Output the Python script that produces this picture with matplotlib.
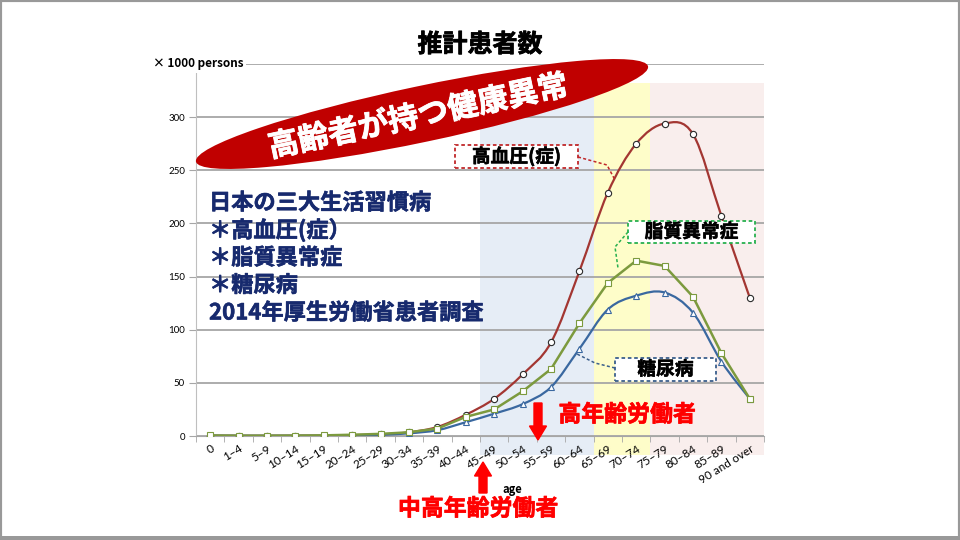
import numpy as np
import matplotlib
matplotlib.use('Agg')
import matplotlib.pyplot as plt
import matplotlib.patheffects as pe
from matplotlib.path import Path
from matplotlib.patches import PathPatch, Rectangle, Ellipse, FancyArrow
from matplotlib.lines import Line2D

plt.rcParams['font.family'] = ['Noto Sans CJK JP', 'DejaVu Sans']

# --- data (x1000 persons) ---
ages = ['0', '1–4', '5–9', '10–14', '15–19', '20–24', '25–29', '30–34', '35–39',
        '40–44', '45–49', '50–54', '55–59', '60–64', '65–69', '70–74', '75–79',
        '80–84', '85–89', '90 and over']
hypertension = [0.3, 0.2, 0.2, 0.3, 0.4, 0.8, 1.5, 3.5, 8.5, 20, 35, 58, 88,
                155, 229, 275, 294, 284, 207, 130]
dyslipidemia = [0.5, 0.3, 0.3, 0.4, 0.6, 1.2, 2.0, 3.5, 7, 18, 25, 42, 63,
                106, 144, 165, 160, 131, 78, 35]
diabetes = [0.3, 0.2, 0.2, 0.2, 0.2, 0.5, 1.2, 2.5, 5.5, 13, 21, 30, 46,
            82, 119, 132, 135, 116, 70, 35]
yticks = [0, 50, 100, 150, 200, 250, 300, 350]

# age bands (category index range) behind the chart
bands = [(9.5, 13.5, '#e6edf6'), (13.5, 15.5, '#fefdc9'), (15.5, 19.5, '#f9eeed')]


def heavy(color, w=0.4):
    # slightly heavier gothic look: thin outline in the text colour
    return [pe.withStroke(linewidth=w, foreground=color)]


def smooth_path(xs, ys):
    # Excel-like smoothed line: Catmull-Rom segments as cubic beziers
    pts = np.column_stack([xs, ys]).astype(float)
    n = len(pts)
    verts = [pts[0]]
    codes = [Path.MOVETO]
    for i in range(n - 1):
        p0 = pts[i - 1] if i > 0 else pts[i]
        p1 = pts[i]
        p2 = pts[i + 1]
        p3 = pts[i + 2] if i + 2 < n else pts[i + 1]
        verts += [p1 + (p2 - p0) / 6, p2 - (p3 - p1) / 6, p2]
        codes += [Path.CURVE4] * 3
    return Path(verts, codes)


def px(x, y):
    # pixel position (from top-left) -> inches for fig.dpi_scale_trans
    return x / 100.0, (540 - y) / 100.0


fig = plt.figure(figsize=(9.6, 5.4), dpi=100)
ax = fig.add_axes([196 / 960, 1 - 436 / 540, 568 / 960, 372 / 540])
T = fig.dpi_scale_trans

x = np.arange(len(ages))
ax.set_xlim(-0.5, len(ages) - 0.5)
ax.set_ylim(0, 350)

for x0, x1, c in bands:
    ax.add_patch(Rectangle((x0, -18), x1 - x0, 350, facecolor=c, edgecolor='none',
                           zorder=0.1, clip_on=False))

ax.set_axisbelow(True)
ax.yaxis.grid(True, color='#a6a6a6', linewidth=1.3)
ax.set_yticks(yticks)
ax.set_yticklabels([str(v) for v in yticks[:-1]] + [''], fontsize=7, family='Lato')
ax.set_xticks(x)
ax.set_xticklabels(ages, fontsize=8.5, family='Lato', rotation=32, ha='right',
                   va='top', rotation_mode='anchor')
ax.tick_params(axis='x', length=0, pad=5)
ax.set_xticks(np.arange(-0.5, len(ages)), minor=True)
ax.tick_params(axis='x', which='minor', length=4, color='#a6a6a6')
ax.tick_params(axis='y', length=5, color='#a6a6a6', pad=3)
for s in ['top', 'right']:
    ax.spines[s].set_visible(False)
ax.spines['left'].set_color('#bfbfbf')
ax.spines['bottom'].set_color('#a6a6a6')

ax.add_patch(PathPatch(smooth_path(x, hypertension), fill=False, edgecolor='#a33632',
                       linewidth=1.6, zorder=3))
ax.plot(x, hypertension, linestyle='none', marker='o', markersize=4.5,
        markerfacecolor='white', markeredgecolor='#2b2b2b', markeredgewidth=0.8, zorder=4)
ax.add_patch(PathPatch(smooth_path(x, diabetes), fill=False, edgecolor='#3a68a0',
                       linewidth=1.6, zorder=3))
ax.plot(x, diabetes, linestyle='none', marker='^', markersize=4.5,
        markerfacecolor='white', markeredgecolor='#3a68a0', markeredgewidth=0.8, zorder=4)
ax.plot(x, dyslipidemia, color='#7c9a3e', linewidth=1.8, marker='s', markersize=4.5,
        markerfacecolor='white', markeredgecolor='#7c9a3e', markeredgewidth=0.8, zorder=5)

fig.text(*px(512, 489), 'age', transform=T, fontsize=8, fontweight='bold',
         ha='center', va='center', zorder=1)

# title and unit
fig.text(*px(480, 45), '推計患者数', transform=T, fontsize=18, fontweight='bold',
         ha='center', va='center', path_effects=heavy('black', 0.5))
fig.text(*px(198, 64), '× 1000 persons', transform=T, fontsize=8.5, fontweight='bold',
         ha='center', va='center',
         bbox=dict(facecolor='white', edgecolor='none', pad=2))

# red tilted ellipse with slogan
fig.add_artist(Ellipse(px(422, 114), 4.62, 0.56, angle=11.9, transform=T,
                       facecolor='#c00000', edgecolor='none', zorder=2))
fig.text(*px(418, 117), '高齢者が持つ健康異常', transform=T, fontsize=22,
         fontweight='bold', color='white', rotation=11.9, ha='center', va='center',
         rotation_mode='anchor', zorder=3, path_effects=heavy('white', 0.6))

# navy text block
navy = '#172a6e'
lines = ['日本の三大生活習慣病', '＊高血圧(症）', '＊脂質異常症', '＊糖尿病',
         '2014年厚生労働省患者調査']
for i, s in enumerate(lines):
    fig.text(*px(209, 203 + 27.5 * i), s, transform=T, fontsize=16, fontweight='bold',
             color=navy, ha='left', va='center', path_effects=heavy(navy, 0.4))

# dashed callout boxes
callouts = [('高血圧(症)', (455, 145, 578, 168), '#c0282a',
             [(578, 157), (607, 165), (615, 180)]),
            ('脂質異常症', (628, 221, 755, 243), '#28b04f',
             [(628, 232), (615, 247), (618, 268)]),
            ('糖尿病', (615, 358, 716, 381), '#3b5f8c',
             [(615, 368), (595, 363), (577, 354)])]
for label, (x0, y0, x1, y1), col, conn in callouts:
    xs, ys = zip(*[px(a, b) for a, b in conn])
    fig.add_artist(Line2D(xs, ys, transform=T, color=col, linewidth=1.1,
                          linestyle=(0, (2, 1.5)), zorder=2))
    fig.add_artist(Rectangle(px(x0, y1), (x1 - x0) / 100, (y1 - y0) / 100, transform=T,
                             facecolor='white', edgecolor=col, linewidth=1.3,
                             linestyle=(0, (2, 1.5)), zorder=2))
    fig.text(*px((x0 + x1) / 2, (y0 + y1) / 2), label, transform=T, fontsize=13.5,
             fontweight='bold', ha='center', va='center', zorder=3,
             path_effects=heavy('black', 0.4))

# worker group labels with arrows
red = '#ff0000'
fig.add_artist(FancyArrow(*px(538, 403), 0, -0.37, width=0.08, head_width=0.17,
                          head_length=0.14, length_includes_head=True,
                          transform=T, color=red, zorder=3))
fig.text(*px(627, 415), '高年齢労働者', transform=T, fontsize=16.5, fontweight='bold',
         color=red, ha='center', va='center', zorder=3, path_effects=heavy(red, 0.5))
fig.add_artist(FancyArrow(*px(483, 493), 0, 0.31, width=0.08, head_width=0.17,
                          head_length=0.14, length_includes_head=True,
                          transform=T, color=red, zorder=3))
fig.text(*px(478, 509), '中高年齢労働者', transform=T, fontsize=16.5, fontweight='bold',
         color=red, ha='center', va='center', zorder=3, path_effects=heavy(red, 0.5))

# slide frame
fig.add_artist(Rectangle((0, 0), 1, 1, transform=fig.transFigure, fill=False,
                         edgecolor='#999999', linewidth=3, zorder=5))
fig.add_artist(Rectangle((0, 0), 1, 4 / 540, transform=fig.transFigure,
                         facecolor='#999999', edgecolor='none', zorder=5))

fig.savefig('out.png', dpi=100)
